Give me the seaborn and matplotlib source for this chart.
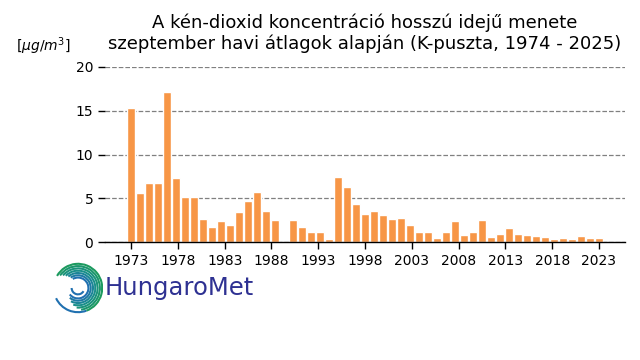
import numpy as np
import pandas as pd
import matplotlib
matplotlib.use("Agg")
import matplotlib.pyplot as plt
from matplotlib.patches import Arc
import seaborn as sns

sns.set_style("white")
plt.rcParams["font.family"] = ["DejaVu Sans"]
plt.rcParams["text.color"] = "black"
plt.rcParams["xtick.color"] = "black"
plt.rcParams["ytick.color"] = "black"

# September mean SO2 concentration, K-puszta (1990 missing)
years = list(range(1973, 2026))
so2 = [15.3, 5.6, 6.7, 6.8, 17.1, 7.3, 5.1, 5.1, 2.6, 1.7,
       2.4, 1.9, 3.4, 4.65, 5.7, 3.6, 2.5, np.nan, 2.5, 1.7,
       1.2, 1.2, 0.4, 7.4, 6.25, 4.4, 3.2, 3.6, 3.05, 2.6,
       2.8, 1.9, 1.1, 1.2, 0.5, 1.1, 2.4, 0.8, 1.1, 2.5,
       0.55, 0.9, 1.6, 0.9, 0.8, 0.7, 0.6, 0.35, 0.45, 0.35,
       0.7, 0.45, 0.45]
tick_labels = [str(y) for y in range(1973, 2024, 5)]

df = pd.DataFrame({"year": [str(y) for y in years], "so2": so2})

fig = plt.figure(figsize=(6.4, 3.6), dpi=100)
ax = fig.add_axes([105 / 640, 118 / 360, 520 / 640, 175 / 360])

sns.barplot(data=df, x="year", y="so2", order=df["year"], color="#F79646",
            saturation=1, width=0.8, ax=ax)

ax.set_ylim(0, 20)
ax.set_xlim(-2.9, 54.9)
ax.set_yticks([0, 5, 10, 15, 20])
ax.set_xticks(np.linspace(0, len(years) - 1, len(tick_labels)))
ax.set_xticklabels(tick_labels)
ax.tick_params(axis="both", labelsize=10, length=5, width=1, color="black",
               labelcolor="black", direction="out", left=True, bottom=True)
ax.yaxis.grid(True, linestyle="--", color="gray", linewidth=0.9)
ax.set_axisbelow(True)
for s in ["left", "right", "top"]:
    ax.spines[s].set_visible(False)
ax.spines["bottom"].set_color("black")
ax.spines["bottom"].set_linewidth(1)
ax.set_xlabel("")
ax.set_ylabel("")

ax.set_title("A kén-dioxid koncentráció hosszú idejű menete\n"
             "szeptember havi átlagok alapján (K-puszta, 1974 - 2025)",
             fontsize=13, pad=13, color="black")
fig.text(43 / 640, 1 - 46 / 360, r"[$\mu g/m^3$]", fontsize=10,
         ha="center", va="center", color="black")

# HungaroMet logo
lax = fig.add_axes([52 / 640, 1 - 316 / 360, 52 / 640, 56 / 360])
lax.set_xlim(-1, 1)
lax.set_ylim(-1.1, 1.1)
lax.set_aspect("equal")
lax.axis("off")
cols = sns.blend_palette(["#1c9a5e", "#1a8f8a", "#2070b0"], 7)
for i, c in enumerate(cols):
    r = 0.95 - i * 0.09
    lax.add_patch(Arc((0, 0), 2 * r, 2 * r, theta1=-70 - i * 12,
                      theta2=150 - i * 5, color=c, lw=1.5))
lax.add_patch(Arc((0, 0), 1.9, 1.9, theta1=205, theta2=290,
                  color="#2070b0", lw=1.5))
lax.add_patch(Arc((0, 0), 0.5, 0.5, theta1=180, theta2=330,
                  color="#2070b0", lw=1.5))
fig.text(105 / 640, 1 - 288 / 360, "HungaroMet", fontsize=17.5,
         color="#2E3192", ha="left", va="center")

fig.savefig("out.png", dpi=100)
